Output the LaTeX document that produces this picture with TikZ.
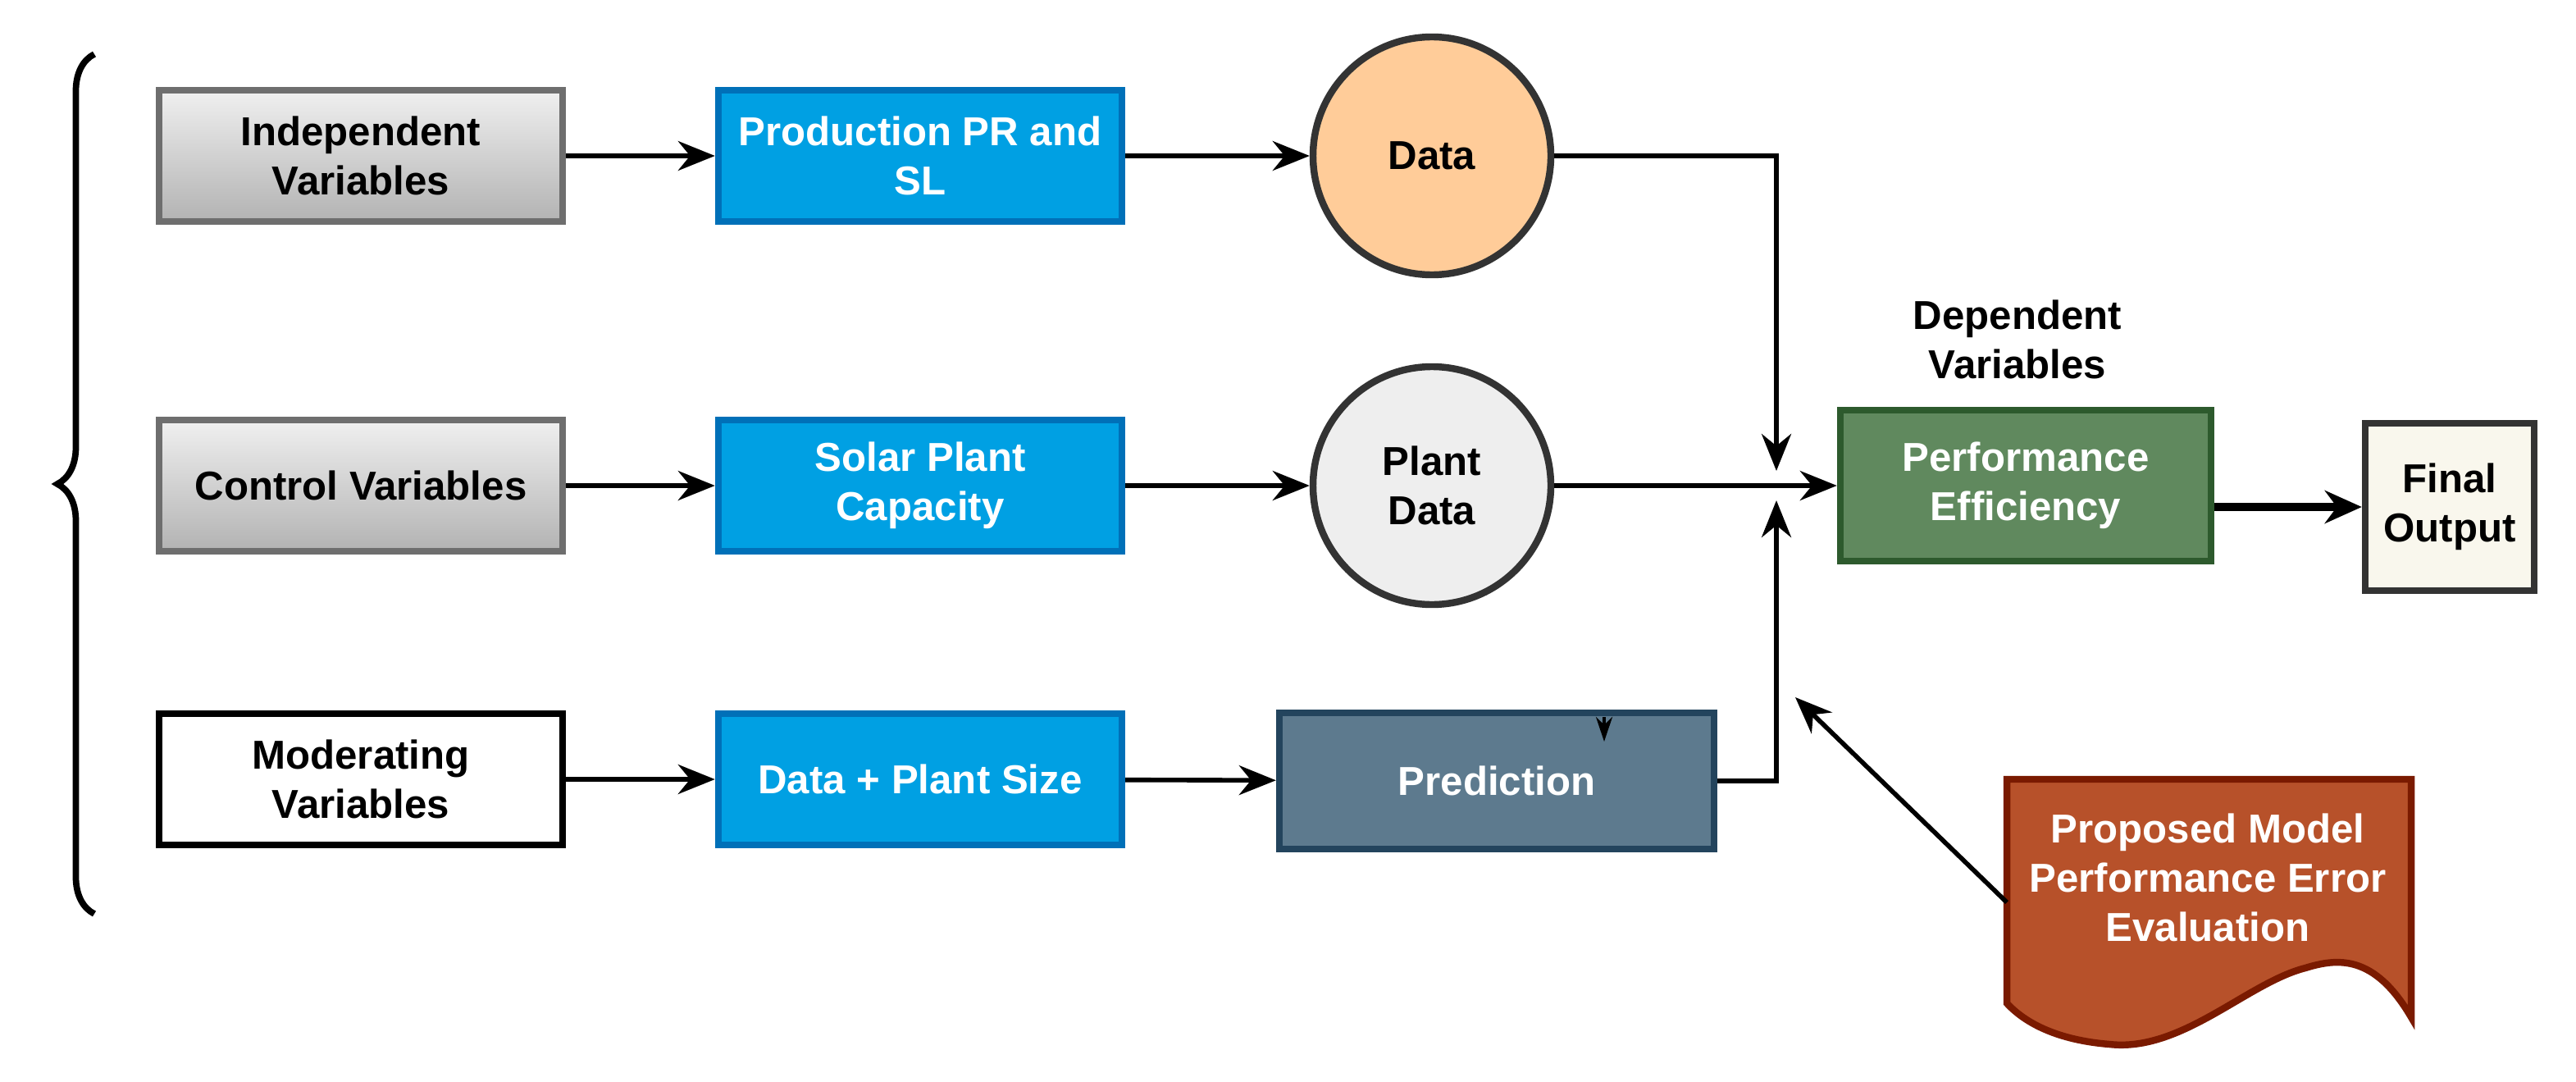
\documentclass[tikz,border=0pt]{standalone}
\usepackage{fontspec}
\setmainfont{Liberation Sans}
\usetikzlibrary{arrows.meta,decorations.pathreplacing}
\definecolor{boxblue}{HTML}{00A0E3}
\definecolor{boxblueline}{HTML}{0070B8}
\definecolor{predfill}{HTML}{5D7A8E}
\definecolor{predline}{HTML}{23445D}
\definecolor{perffill}{HTML}{60895E}
\definecolor{perfline}{HTML}{2D5A2D}
\definecolor{docfill}{HTML}{B7512A}
\definecolor{docline}{HTML}{7A1A00}
\definecolor{datafill}{HTML}{FFCC99}
\definecolor{plantfill}{HTML}{EEEEEE}
\definecolor{finalfill}{HTML}{F9F7ED}
\tikzset{
  txt/.style={font=\fontsize{14}{17}\selectfont\bfseries, align=center},
  varbox/.style={txt, draw=black!57, line width=2.4pt, top color=black!6, bottom color=black!30,
    minimum width=4.92cm, minimum height=1.6cm},
  bluebox/.style={txt, text=white, draw=boxblueline, fill=boxblue, line width=2.4pt,
    minimum width=4.92cm, minimum height=1.6cm, inner sep=1pt},
  circ/.style={txt, circle, draw=black!80, line width=2.4pt, minimum size=2.9cm},
  arr/.style={-{Stealth[length=0.45cm,width=0.36cm]}, line width=1.6pt},
}
\begin{document}
\begin{tikzpicture}
\useasboundingbox (0,0) rectangle (31.41,13.18);

% brace
\draw[line width=2.2pt, decorate, decoration={brace, amplitude=0.45cm}] (1.15,2.04) -- (1.15,12.52);

% variables
\node[varbox] (ind) at (4.40,11.28) {Independent\\Variables};
\node[varbox] (ctrl) at (4.40,7.26) {Control Variables};
\node[varbox, draw=black, fill=white, top color=white, bottom color=white] (mod) at (4.40,3.68) {Moderating\\Variables};

% inputs
\node[bluebox] (prod) at (11.22,11.28) {Production PR and\\SL};
\node[bluebox] (cap) at (11.22,7.26) {Solar Plant\\Capacity};
\node[bluebox] (size) at (11.22,3.68) {Data + Plant Size};

% data
\node[circ, fill=datafill] (data) at (17.46,11.28) {Data};
\node[circ, fill=plantfill] (plant) at (17.46,7.26) {Plant\\Data};
\node[txt, text=white, draw=predline, fill=predfill, line width=2.4pt,
  minimum width=5.3cm, minimum height=1.66cm] (pred) at (18.25,3.66) {Prediction};

% outputs
\node[txt] (dep) at (24.60,9.04) {Dependent\\Variables};
\node[txt, text=white, draw=perfline, fill=perffill, line width=2.4pt,
  minimum width=4.52cm, minimum height=1.84cm] (perf) at (24.70,7.26) {Performance\\Efficiency};
\node[txt, draw=black!80, fill=finalfill, line width=2.4pt,
  minimum width=2.06cm, minimum height=2.04cm, inner sep=1pt] (final) at (29.87,7.00) {Final\\Output};

% evaluation document
\draw[draw=docline, fill=docfill, line width=2.4pt]
  (24.47,3.68) -- (29.40,3.68) -- (29.40,0.78)
  .. controls (28.95,1.55) and (28.50,1.50) .. (28.11,1.38)
  .. controls (27.40,1.20) and (26.60,0.35) .. (25.72,0.45)
  .. controls (25.10,0.50) and (24.70,0.70) .. (24.47,0.95) -- cycle;
\node[txt, text=white] (eval) at (26.92,2.48) {Proposed Model\\Performance Error\\Evaluation};

% connectors
\coordinate (jt) at (21.66,7.44);
\coordinate (jb) at (21.66,7.08);
\coordinate (evs) at (24.47,2.18);
\coordinate (evt) at (21.89,4.68);
\coordinate (ps) at (19.56,4.44);
\coordinate (pt) at (19.56,4.14);
\draw[arr] (ind) -- (prod);
\draw[arr] (ctrl) -- (cap);
\draw[arr] (mod) -- (size);
\draw[arr] (prod) -- (data);
\draw[arr] (cap) -- (plant);
\draw[arr] (size) -- (pred);
\draw[arr] (data.east) -| (jt);
\draw[arr] (pred.east) -| (jb);
\draw[arr] (plant) -- (perf);
\draw[arr] (evs) -- (evt);
\draw[-{Stealth[length=0.3cm,width=0.2cm]}, line width=1.2pt] (ps) -- (pt);
\draw[-{Stealth[length=0.45cm,width=0.4cm]}, line width=3pt] (perf.east |- final) -- (final);

\end{tikzpicture}
\end{document}
